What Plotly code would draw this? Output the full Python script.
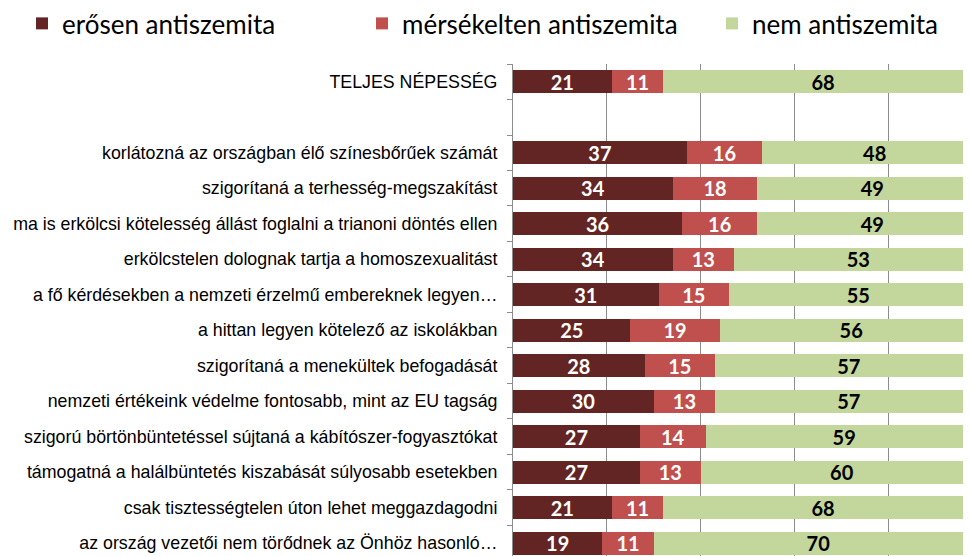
import plotly.graph_objects as go

categories = [
    "TELJES NÉPESSÉG",
    " ",
    "korlátozná az országban élő színesbőrűek számát",
    "szigorítaná a terhesség-megszakítást",
    "ma is erkölcsi kötelesség állást foglalni a trianoni döntés ellen",
    "erkölcstelen dolognak tartja a homoszexualitást",
    "a fő kérdésekben a nemzeti érzelmű embereknek legyen…",
    "a hittan legyen kötelező az iskolákban",
    "szigorítaná a menekültek befogadását",
    "nemzeti értékeink védelme fontosabb, mint az EU tagság",
    "szigorú börtönbüntetéssel sújtaná a kábítószer-fogyasztókat",
    "támogatná a halálbüntetés kiszabását súlyosabb esetekben",
    "csak tisztességtelen úton lehet meggazdagodni",
    "az ország vezetői nem törődnek az Önhöz hasonló…",
]
erosen = [21, None, 37, 34, 36, 34, 31, 25, 28, 30, 27, 27, 21, 19]
merseklet = [11, None, 16, 18, 16, 13, 15, 19, 15, 13, 14, 13, 11, 11]
nem = [68, None, 48, 49, 49, 53, 55, 56, 57, 57, 59, 60, 68, 70]

series = [
    ("erősen antiszemita", erosen, "#632523", "white", 295),
    ("mérsékelten antiszemita", merseklet, "#C0504D", "white", 305),
    ("nem antiszemita", nem, "#C3D69B", "black", 190),
]

fig = go.Figure()
for name, vals, color, tcol, lw in series:
    fig.add_trace(go.Bar(
        y=categories, x=vals, name=name, orientation="h",
        marker=dict(color=color, line=dict(width=0)),
        text=[("" if v is None else str(v)) for v in vals],
        textposition="inside", insidetextanchor="middle",
        textangle=0, constraintext="none",
        textfont=dict(family="Lato", size=20, color=tcol, weight="bold"),
        hoverinfo="skip", legendwidth=lw,
    ))

# page body adds an 8px margin; figure sized to fit the 971x556 window
fig.update_layout(
    width=963, height=548,
    barmode="stack", bargap=0.35,
    plot_bgcolor="white", paper_bgcolor="white",
    margin=dict(l=505, r=0, t=56, b=0, autoexpand=False),
    showlegend=True,
    legend=dict(orientation="h", traceorder="normal",
                x=-1.072, xanchor="left", y=1.0346, yanchor="bottom",
                font=dict(family="Lato", size=26, color="black"),
                itemwidth=30, entrywidthmode="pixels"),
    uniformtext=dict(mode=False),
)
fig.update_xaxes(range=[0, 97.5], showticklabels=False, showgrid=True,
                 gridcolor="#8c8c8c", gridwidth=1, dtick=20, tick0=0,
                 zeroline=False, showline=False, ticks="", automargin=False)
fig.update_yaxes(categoryorder="array", categoryarray=categories,
                 autorange=False, range=[13.36, -0.5], automargin=False,
                 showline=True, linecolor="#8c8c8c", linewidth=1,
                 ticks="outside", tickson="boundaries", ticklen=5, tickcolor="#8c8c8c",
                 ticklabelstandoff=11,
                 tickfont=dict(family="Liberation Sans", size=17.8, color="black"),
                 showgrid=False)

fig.write_html("out.html")
